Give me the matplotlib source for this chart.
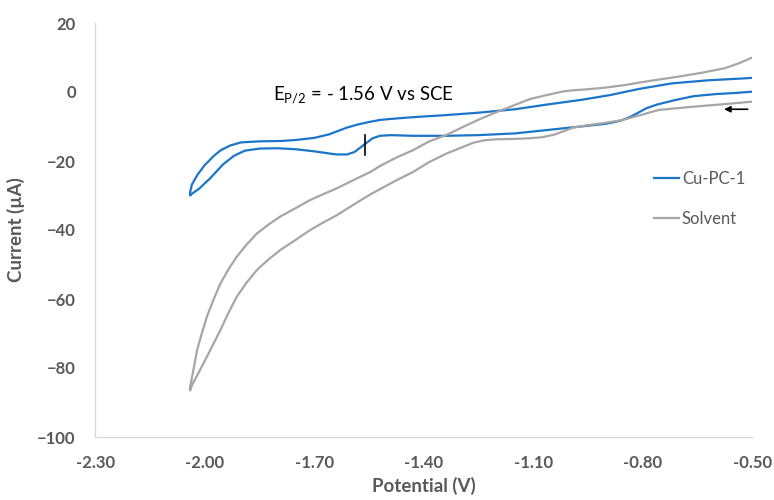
import matplotlib.pyplot as plt

plt.rcParams['font.family'] = ['Lato', 'DejaVu Sans']
plt.rcParams['mathtext.default'] = 'regular'

# Cu-PC-1: cathodic sweep (right to left) then return sweep (left to right)
cu_fwd_v = [-0.50, -0.55, -0.60, -0.66, -0.71, -0.76, -0.79, -0.83, -0.86, -0.90,
            -0.97, -1.06, -1.15, -1.25, -1.34, -1.43, -1.49, -1.52, -1.54, -1.56,
            -1.575, -1.59, -1.61, -1.64, -1.70, -1.75, -1.80, -1.85, -1.89, -1.92,
            -1.95, -1.985, -2.015, -2.035, -2.04]
cu_fwd_i = [0.1, -0.3, -0.6, -1.2, -2.3, -3.6, -4.7, -7.0, -8.3, -9.2,
            -10.0, -11.0, -12.0, -12.5, -12.7, -12.7, -12.5, -12.7, -13.4, -15.0,
            -16.2, -17.4, -18.1, -18.1, -17.2, -16.6, -16.3, -16.4, -17.0, -18.5,
            -21.0, -25.0, -28.0, -29.5, -30.0]
cu_rev_v = [-2.04, -2.035, -2.02, -2.00, -1.975, -1.955, -1.93, -1.90, -1.85, -1.79,
            -1.75, -1.70, -1.66, -1.64, -1.61, -1.58, -1.55, -1.52, -1.49, -1.43,
            -1.34, -1.25, -1.15, -1.06, -0.97, -0.89, -0.85, -0.81, -0.72, -0.62,
            -0.53, -0.50]
cu_rev_i = [-29.0, -26.8, -24.0, -21.2, -18.5, -16.8, -15.5, -14.6, -14.3, -14.2,
            -13.9, -13.3, -12.3, -11.5, -10.3, -9.4, -8.7, -8.1, -7.8, -7.3,
            -6.7, -6.0, -5.0, -3.6, -2.3, -0.9, 0.0, 0.9, 2.5, 3.4,
            3.9, 4.1]

# solvent blank
sol_fwd_v = [-0.50, -0.575, -0.666, -0.756, -0.80, -0.855, -0.90, -0.95, -0.99, -1.02,
             -1.044, -1.075, -1.108, -1.154, -1.20, -1.235, -1.264, -1.29, -1.337, -1.385,
             -1.428, -1.475, -1.519, -1.545, -1.59, -1.638, -1.675, -1.711, -1.75, -1.793,
             -1.825, -1.857, -1.885, -1.912, -1.935, -1.957, -1.98, -2.003, -2.02, -2.035,
             -2.04]
sol_fwd_i = [-2.8, -3.5, -4.3, -5.2, -6.5, -8.1, -8.9, -9.6, -10.3, -11.5,
             -12.4, -13.1, -13.4, -13.6, -13.7, -14.0, -14.7, -15.8, -17.8, -20.3,
             -23.1, -25.6, -28.1, -29.6, -32.5, -35.7, -37.8, -40.0, -42.8, -45.8,
             -48.5, -51.6, -55.2, -59.3, -64.0, -69.0, -73.8, -78.6, -82.0, -85.0,
             -86.5]
sol_rev_v = [-2.04, -2.03, -2.021, -2.008, -1.994, -1.976, -1.957, -1.935, -1.912, -1.885,
             -1.857, -1.825, -1.793, -1.75, -1.711, -1.675, -1.638, -1.59, -1.545, -1.519,
             -1.475, -1.428, -1.385, -1.337, -1.29, -1.245, -1.20, -1.154, -1.108, -1.063,
             -1.017, -0.99, -0.95, -0.90, -0.85, -0.80, -0.756, -0.70, -0.637, -0.575,
             -0.535, -0.50]
sol_rev_i = [-85.5, -80.0, -74.8, -70.0, -65.1, -60.2, -55.5, -51.4, -47.7, -44.2,
             -41.0, -38.4, -36.1, -33.6, -31.3, -29.6, -27.9, -25.4, -23.1, -21.4,
             -19.0, -16.8, -14.3, -12.4, -10.0, -7.8, -5.8, -3.9, -2.0, -0.9,
             0.2, 0.5, 0.8, 1.3, 2.0, 2.9, 3.6, 4.5, 5.6, 6.9,
             8.4, 10.0]

x_ticks = [-2.30, -2.00, -1.70, -1.40, -1.10, -0.80, -0.50]
y_ticks = [-100, -80, -60, -40, -20, 0, 20]
e_half = -1.56

blue = '#1B75C9'
grey = '#A6A6A6'
txt = '#595959'

fig = plt.figure(figsize=(7.74, 5.0), dpi=100)
ax = fig.add_axes([0.123, 0.126, 0.849, 0.828])

ax.plot(cu_fwd_v + cu_rev_v, cu_fwd_i + cu_rev_i, color=blue, lw=1.6,
        solid_joinstyle='round', label='Cu-PC-1')
ax.plot(sol_fwd_v + sol_rev_v, sol_fwd_i + sol_rev_i, color=grey, lw=1.6,
        solid_joinstyle='round', label='Solvent')

# half-wave potential marker
ax.plot([e_half, e_half], [-18.3, -12.5], color='black', lw=1.2)
ax.text(-1.812, -2.5, r'E$_{P/2}$ = - 1.56 V vs SCE', fontsize=13.4, color='black')

# scan direction arrow
ax.annotate('', xy=(-0.585, -5), xytext=(-0.505, -5),
            arrowprops=dict(arrowstyle='-|>', color='black', lw=1.2,
                            mutation_scale=9))

ax.set_xlim(-2.30, -0.50)
ax.set_ylim(-100, 20)
ax.set_xticks(x_ticks)
ax.set_xticklabels([f'{t:.2f}' for t in x_ticks])
ax.set_yticks(y_ticks)
ax.tick_params(length=0, labelsize=12, labelcolor=txt)
ax.tick_params(axis='y', pad=14)
ax.tick_params(axis='x', pad=13)
for lab in ax.get_xticklabels() + ax.get_yticklabels():
    lab.set_fontweight('bold')

for side in ['top', 'right']:
    ax.spines[side].set_visible(False)
for side in ['left', 'bottom']:
    ax.spines[side].set_color('#D9D9D9')
    ax.spines[side].set_linewidth(1.0)

ax.set_xlabel('Potential (V)', fontsize=13.5, fontweight='bold', color=txt, labelpad=4)
ax.set_ylabel('Current (µA)', fontsize=13.5, fontweight='bold', color=txt, labelpad=9)

ax.legend(loc='upper left', bbox_to_anchor=(0.851, 0.643), frameon=False,
          fontsize=12, labelcolor=txt, handlelength=1.45, handletextpad=0.2,
          labelspacing=1.45, borderpad=0, borderaxespad=0)

fig.savefig('out.png', dpi=100)
